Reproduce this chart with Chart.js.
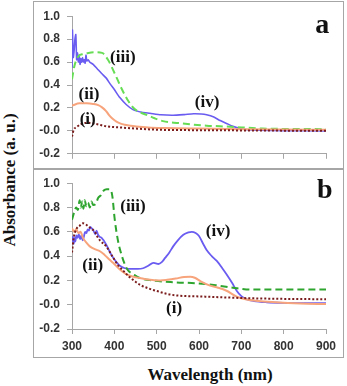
<!DOCTYPE html>
<html>
<head>
<meta charset="utf-8">
<script src="https://cdn.jsdelivr.net/npm/chart.js@4/dist/chart.umd.min.js"></script>
<style>
  body { margin: 0; background: #fff; width: 347px; height: 386px; position: relative; overflow: hidden; }
  .panel { position: absolute; left: 33px; width: 311px; box-sizing: border-box; border: 1px solid #a6a6a6; }
  .panel canvas { position: absolute; left: 0; top: 0; }
  #ytitle {
    position: absolute; left: 10px; top: 180px;
    transform: translate(-50%, -50%) rotate(-90deg);
    font: bold 17px "Liberation Serif", serif; white-space: nowrap; color: #111;
  }
  #xtitle {
    position: absolute; left: 210px; top: 375px;
    transform: translate(-50%, -50%);
    font: bold 17px "Liberation Serif", serif; white-space: nowrap; color: #111;
  }
</style>
</head>
<body>
<div class="panel" style="top:1px;height:169px"><canvas id="chartA" width="309" height="166"></canvas></div>
<div class="panel" style="top:168px;height:190px"><canvas id="chartB" width="309" height="188"></canvas></div>
<div id="ytitle">Absorbance (a. u.)</div>
<div id="xtitle">Wavelength (nm)</div>
<script>
// panel a
const aWlI = [300, 304, 310, 322, 338, 357, 381, 413, 450, 500, 600, 700, 800, 900]
const aValI = [-0.05, 0.01, 0.03, 0.06, 0.07, 0.06, 0.04, 0.03, 0.02, 0.01, 0.006, 0.004, 0.002, 0]

const aWlII = [300, 318, 335, 350, 362, 371, 380, 387, 396, 405, 415, 425, 438, 452, 480, 520, 600, 700, 800, 900]
const aValII = [0.22, 0.24, 0.24, 0.235, 0.225, 0.205, 0.175, 0.14, 0.105, 0.08, 0.063, 0.053, 0.044, 0.038, 0.03, 0.025, 0.02, 0.015, 0.012, 0.01]

const aWlIII = [300, 306, 315, 327, 339, 355, 371, 385, 401, 417, 433, 448, 462, 476, 495, 515, 560, 618, 650, 700, 750, 800, 900]
const aValIII = [0.45, 0.57, 0.65, 0.67, 0.68, 0.685, 0.68, 0.62, 0.5, 0.37, 0.26, 0.19, 0.16, 0.14, 0.11, 0.085, 0.065, 0.045, 0.04, 0.03, 0.02, 0.017, 0.015]

const aWlIV = [300, 301, 303, 305, 307, 309, 311, 313, 315, 317, 319, 321, 323, 325, 327, 329, 331, 333, 335, 338, 342, 350, 360, 370, 381, 390, 400, 413, 428, 444, 465, 484, 510, 539, 565, 587, 605, 618, 635, 650, 665, 680, 697, 715, 740, 800, 900]
const aValIV = [0.55, 0.88, 0.64, 0.7, 0.8, 0.84, 0.62, 0.68, 0.6, 0.66, 0.58, 0.63, 0.6, 0.64, 0.6, 0.62, 0.59, 0.66, 0.61, 0.62, 0.6, 0.58, 0.54, 0.5, 0.46, 0.41, 0.36, 0.29, 0.23, 0.185, 0.162, 0.153, 0.14, 0.136, 0.142, 0.149, 0.147, 0.14, 0.12, 0.09, 0.065, 0.04, 0.02, 0.01, 0.005, 0.002, 0]

// panel b
const bWlI = [300, 304, 310, 318, 326, 333, 340, 348, 354, 360, 366, 381, 395, 410, 421, 435, 446, 460, 484, 503, 523, 543, 563, 600, 640, 700, 800, 900]
const bValI = [0.43, 0.55, 0.62, 0.65, 0.67, 0.66, 0.64, 0.62, 0.6, 0.56, 0.53, 0.48, 0.4, 0.32, 0.28, 0.23, 0.2, 0.165, 0.13, 0.11, 0.09, 0.078, 0.072, 0.068, 0.063, 0.055, 0.048, 0.045]

const bWlII = [300, 305, 310, 315, 320, 326, 334, 342, 355, 366, 377, 389, 397, 413, 429, 445, 460, 480, 508, 525, 545, 565, 579, 590, 605, 626, 645, 665, 689, 710, 740, 780, 840, 900]
const bValII = [0.63, 0.6, 0.62, 0.59, 0.6, 0.55, 0.51, 0.48, 0.455, 0.44, 0.41, 0.37, 0.345, 0.29, 0.25, 0.23, 0.22, 0.207, 0.2, 0.205, 0.215, 0.228, 0.23, 0.222, 0.19, 0.157, 0.14, 0.115, 0.067, 0.045, 0.03, 0.02, 0.01, 0.005]

const bWlIII = [300, 305, 310, 314, 318, 321, 324, 327, 330, 334, 338, 342, 346, 350, 356, 362, 368, 375, 382, 389, 395, 401, 409, 417, 425, 433, 445, 460, 490, 540, 600, 640, 690, 720, 800, 900]
const bValIII = [0.7, 0.76, 0.8, 0.78, 0.86, 0.8, 0.85, 0.79, 0.86, 0.81, 0.84, 0.8, 0.85, 0.82, 0.83, 0.88, 0.9, 0.94, 0.95, 0.95, 0.9, 0.7, 0.52, 0.41, 0.33, 0.28, 0.25, 0.22, 0.2, 0.185, 0.175, 0.16, 0.135, 0.125, 0.125, 0.125]

const bWlIV = [300, 302, 304, 306, 308, 310, 313, 316, 319, 322, 325, 328, 331, 334, 337, 340, 343, 346, 349, 352, 355, 358, 361, 365, 370, 380, 393, 405, 413, 425, 437, 455, 468, 480, 492, 498, 504, 512, 520, 530, 539, 550, 563, 575, 583, 592, 600, 610, 618, 630, 642, 655, 665, 678, 689, 700, 712, 730, 760, 800, 900]
const bValIV = [0.52, 0.56, 0.5, 0.55, 0.52, 0.57, 0.55, 0.58, 0.54, 0.57, 0.53, 0.56, 0.6, 0.59, 0.62, 0.61, 0.64, 0.63, 0.62, 0.6, 0.58, 0.61, 0.58, 0.56, 0.55, 0.5, 0.41, 0.35, 0.32, 0.3, 0.295, 0.295, 0.3, 0.32, 0.345, 0.34, 0.335, 0.35, 0.385, 0.43, 0.48, 0.53, 0.575, 0.595, 0.6, 0.59, 0.565, 0.5, 0.45, 0.4, 0.36, 0.3, 0.25, 0.18, 0.115, 0.07, 0.045, 0.03, 0.02, 0.015, 0.012]

const aNotes = [
  { text: '(iii)', x: 420, y: 0.64 },
  { text: '(ii)', x: 340, y: 0.32 },
  { text: '(i)', x: 337, y: 0.1 },
  { text: '(iv)', x: 619, y: 0.245 }
]
const bNotes = [
  { text: '(iii)', x: 444, y: 0.805 },
  { text: '(ii)', x: 349, y: 0.32 },
  { text: '(i)', x: 541, y: -0.03 },
  { text: '(iv)', x: 645, y: 0.6 }
]

const blue = '#6a5cf0'
const orange = '#f7a47c'
const maroon = '#7b1c1c'

function pts(xs, ys) {
  return xs.map((x, i) => ({ x: x, y: ys[i] }))
}

const notesPlugin = {
  id: 'notes',
  afterDatasetsDraw(chart, args, opts) {
    const ctx = chart.ctx
    const { x, y } = chart.scales
    ctx.save()
    ctx.fillStyle = '#111'
    ctx.textAlign = 'center'
    ctx.textBaseline = 'middle'
    ctx.font = 'bold 17px "Liberation Serif", serif'
    opts.items.forEach(n => {
      ctx.fillText(n.text, x.getPixelForValue(n.x), y.getPixelForValue(n.y))
    })
    ctx.font = 'bold 28px "Liberation Serif", serif'
    ctx.fillText(opts.letter.text, x.getPixelForValue(opts.letter.x), y.getPixelForValue(opts.letter.y))
    ctx.restore()
  }
}

function makeChart(id, { datasets, notes, letter, showX, xHeight }) {
  const c = document.getElementById(id).getContext('2d')
  const axisColor = '#a6a6a6'
  const tickFont = { family: '"Liberation Sans", Arial, sans-serif', size: 12, weight: 'bold' }
  return new Chart(c, {
    type: 'line',
    data: { datasets },
    plugins: [notesPlugin],
    options: {
      responsive: false,
      animation: false,
      devicePixelRatio: 1,
      layout: { padding: { top: 12, right: 17, left: 0, bottom: 0 } },
      elements: { point: { radius: 0 }, line: { cubicInterpolationMode: 'monotone' } },
      plugins: {
        legend: { display: false },
        tooltip: { enabled: false },
        notes: { items: notes, letter: letter }
      },
      scales: {
        x: {
          type: 'linear', min: 300, max: 900,
          border: { display: true, color: axisColor },
          grid: { drawOnChartArea: false, color: axisColor, tickLength: 5 },
          ticks: { display: showX, stepSize: 100, padding: 5, color: '#333', font: tickFont, maxRotation: 0 },
          afterFit(scale) { scale.height = xHeight }
        },
        y: {
          min: -0.2, max: 1.0,
          border: { display: true, color: axisColor },
          grid: { drawOnChartArea: false, color: axisColor, tickLength: 5 },
          ticks: { stepSize: 0.2, padding: 7, color: '#333', font: tickFont, callback: v => v.toFixed(1) },
          afterFit(scale) { scale.width = 38 }
        }
      }
    }
  })
}

makeChart('chartA', {
  showX: false,
  xHeight: 5,
  letter: { text: 'a', x: 891, y: 0.92 },
  notes: aNotes,
  datasets: [
    { data: pts(aWlI, aValI), borderColor: maroon, borderWidth: 2, borderDash: [2, 2] },
    { data: pts(aWlII, aValII), borderColor: orange, borderWidth: 2 },
    { data: pts(aWlIII, aValIII), borderColor: '#66dd55', borderWidth: 2, borderDash: [7, 4] },
    { data: pts(aWlIV, aValIV), borderColor: blue, borderWidth: 1.6, cubicInterpolationMode: 'default', tension: 0.2 }
  ]
})

makeChart('chartB', {
  showX: true,
  xHeight: 28,
  letter: { text: 'b', x: 897, y: 0.94 },
  notes: bNotes,
  datasets: [
    { data: pts(bWlI, bValI), borderColor: maroon, borderWidth: 2, borderDash: [2, 2] },
    { data: pts(bWlII, bValII), borderColor: orange, borderWidth: 2 },
    { data: pts(bWlIII, bValIII), borderColor: '#2ea52e', borderWidth: 2, borderDash: [7, 4] },
    { data: pts(bWlIV, bValIV), borderColor: blue, borderWidth: 1.8 }
  ]
})
</script>
</body>
</html>
